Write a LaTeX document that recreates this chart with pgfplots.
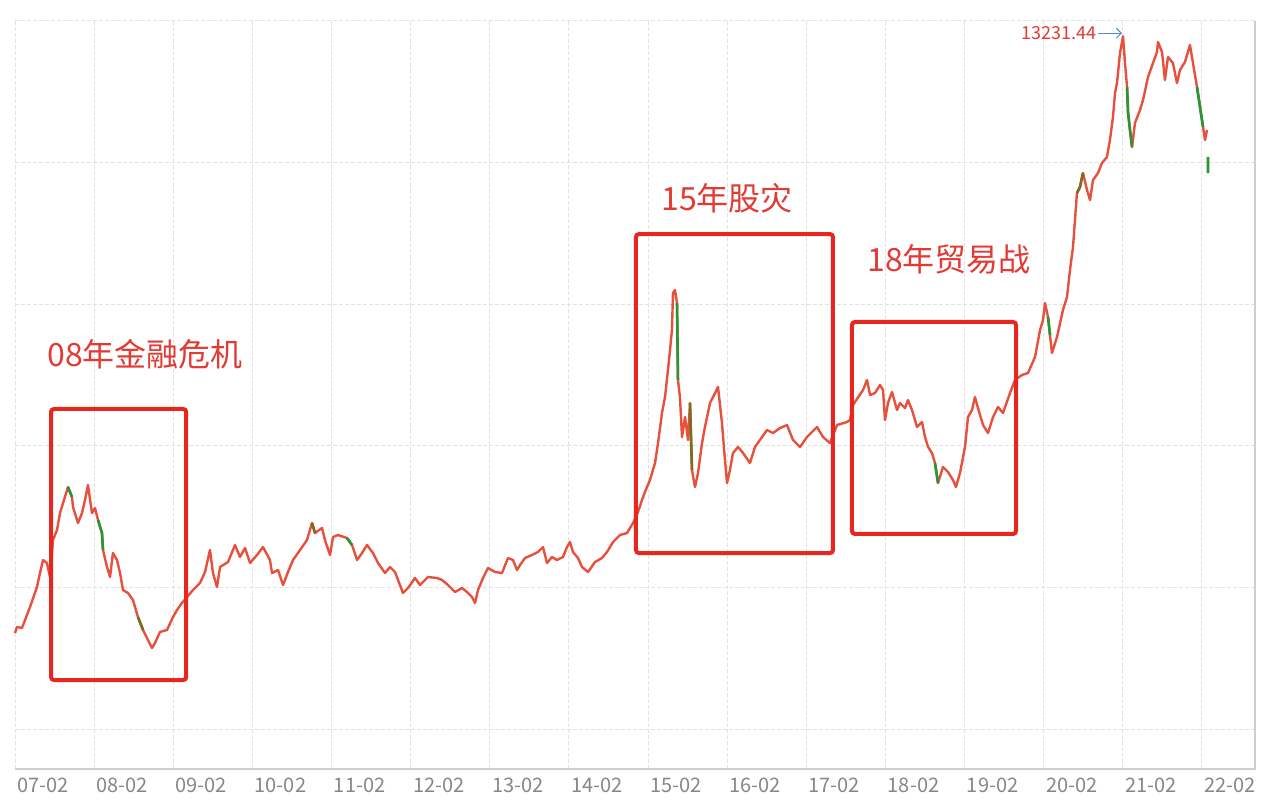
\documentclass[border=0pt]{standalone}
\usepackage{fontspec}
\setmainfont{Noto Sans CJK SC}
\usepackage{pgfplots}
\pgfplotsset{compat=1.18}
\usetikzlibrary{arrows.meta,backgrounds}
\definecolor{linered}{RGB}{232,80,62}
\definecolor{boxred}{RGB}{232,38,32}
\definecolor{txtred}{RGB}{226,58,52}
\definecolor{cgreen}{RGB}{40,150,50}
\definecolor{colive}{RGB}{120,110,30}
\definecolor{gridc}{RGB}{226,226,226}
\definecolor{tickc}{RGB}{135,135,135}
\definecolor{arrowc}{RGB}{80,140,200}
\begin{document}
\begin{tikzpicture}
\begin{axis}[
  width=620pt, height=374pt, scale only axis,
  xmin=0, xmax=15.67, ymin=294, ymax=13500,
  xtick={0,...,15},
  xticklabels={07-02,08-02,09-02,10-02,11-02,12-02,13-02,14-02,15-02,16-02,17-02,18-02,19-02,20-02,21-02,22-02},
  ytick={1000,3500,6000,8500,11000,13500}, yticklabel=\empty,
  major tick length=0pt,
  grid=major,
  major grid style={gridc, line width=0.5pt, dash pattern=on 2pt off 1pt},
  axis line style={draw=none},
  xticklabel style={anchor=north west, font=\fontsize{10pt}{12pt}\selectfont, text=tickc, inner sep=0pt, yshift=-4.5pt, xshift=1pt},
  clip=false,
]
% main series
\addplot[linered, line width=1.2pt, line join=round] coordinates {
(0.000,2695)(0.025,2801)(0.088,2783)(0.190,3154)(0.278,3507)(0.316,3754)(0.354,3984)(0.404,3931)(0.442,3684)(0.480,4337)(0.531,4513)(0.569,4813)(0.607,4990)(0.670,5272)(0.720,5096)(0.733,4919)(0.796,4637)(0.847,4813)(0.885,5043)(0.922,5308)(0.973,4813)(1.011,4902)(1.049,4690)(1.099,4460)(1.112,4160)(1.163,3860)(1.201,3684)(1.238,4107)(1.289,3984)(1.327,3754)(1.365,3454)(1.428,3401)(1.491,3277)(1.554,2977)(1.618,2748)(1.681,2571)(1.731,2430)(1.769,2518)(1.832,2713)(1.921,2748)(1.997,2977)(2.047,3101)(2.110,3225)(2.174,3330)(2.249,3454)(2.338,3578)(2.401,3772)(2.464,4160)
(2.502,3754)(2.553,3507)(2.591,3860)(2.692,3948)(2.780,4249)(2.843,4037)(2.907,4196)(2.970,3931)(3.058,4072)(3.134,4213)(3.222,3984)(3.248,3754)(3.324,3807)(3.387,3542)(3.450,3772)(3.513,3984)(3.602,4160)(3.690,4337)(3.753,4637)(3.791,4460)(3.880,4549)(3.917,4337)(3.981,4072)(4.019,4390)(4.082,4425)(4.196,4372)(4.259,4249)(4.322,3984)(4.385,4107)(4.448,4249)(4.524,4107)(4.587,3931)(4.676,3754)(4.739,3860)(4.802,3772)(4.865,3542)(4.903,3401)(4.966,3489)(5.055,3666)
(5.118,3542)(5.219,3684)(5.333,3666)(5.396,3631)(5.472,3542)(5.560,3419)(5.649,3489)(5.712,3419)(5.775,3330)(5.813,3225)(5.851,3454)(5.914,3666)(5.977,3842)(6.066,3772)(6.154,3754)(6.230,4019)(6.293,3984)(6.344,3807)(6.382,3895)(6.445,4019)(6.533,4072)(6.609,4125)(6.672,4213)(6.723,3931)(6.786,4037)(6.849,3984)(6.925,4037)(6.976,4213)(7.013,4301)(7.051,4125)(7.115,4019)(7.165,3860)(7.241,3772)(7.329,3948)(7.418,4019)(7.481,4125)(7.557,4301)(7.645,4425)(7.734,4460)(7.810,4637)
(7.873,4831)(7.923,5043)(7.961,5184)(8.024,5396)(8.088,5696)(8.126,6049)(8.176,6579)(8.214,6861)(8.252,7338)(8.302,8044)(8.315,8698)(8.340,8751)(8.366,8521)(8.378,7162)(8.403,6861)(8.429,6155)(8.467,6508)(8.505,6102)(8.530,6756)(8.555,5573)(8.593,5272)(8.631,5520)(8.682,6049)(8.719,6332)(8.783,6756)(8.821,6861)(8.884,7038)(8.934,6402)(8.972,5749)(8.998,5343)(9.035,5573)(9.073,5873)(9.137,5979)(9.200,5873)(9.288,5696)(9.351,5979)(9.440,6155)(9.503,6279)(9.579,6226)(9.667,6314)(9.756,6367)(9.832,6102)(9.920,5979)(10.008,6155)(10.135,6332)(10.211,6155)(10.299,6049)(10.388,6367)(10.514,6420)
(10.552,6455)(10.590,6720)(10.716,6985)(10.767,7162)(10.805,6897)(10.868,6932)(10.931,7073)(10.969,6985)(10.994,6455)(11.032,6756)(11.083,6950)(11.146,6632)(11.184,6756)(11.247,6667)(11.285,6808)(11.335,6632)(11.399,6332)(11.462,6420)(11.500,6155)(11.538,5979)(11.588,5873)(11.626,5696)(11.664,5343)(11.727,5626)(11.790,5537)(11.853,5396)(11.891,5272)(11.942,5520)(12.005,5979)(12.043,6508)(12.094,6632)(12.131,6861)(12.169,6667)(12.233,6367)(12.296,6226)(12.359,6508)(12.422,6685)(12.485,6579)(12.574,6932)(12.637,7162)(12.725,7250)(12.801,7285)(12.890,7568)
(12.953,8044)(12.991,8221)(13.016,8521)(13.054,8274)(13.104,7638)(13.168,7921)(13.243,8397)(13.294,8627)(13.332,9104)(13.370,9510)(13.395,9986)(13.420,10463)(13.458,10569)(13.496,10816)(13.547,10516)(13.585,10340)(13.623,10693)(13.686,10816)(13.736,10993)(13.799,11099)(13.837,11399)(13.875,11805)(13.901,12229)(13.926,12405)(13.964,12935)(14.002,13231.44)(14.027,12758)(14.053,12335)(14.065,11893)(14.090,11575)(14.116,11275)(14.153,11699)(14.217,11928)(14.255,12105)(14.318,12511)(14.381,12758)(14.431,12952)(14.444,13129)(14.495,12952)(14.532,12458)(14.570,12864)(14.633,12758)(14.684,12405)(14.722,12635)(14.785,12776)(14.848,13076)(14.886,12758)(14.937,12335)(14.975,11981)(15.013,11628)(15.038,11399)(15.063,11575)
};
% falling candles
\addplot[cgreen, line width=1.3pt, unbounded coords=jump] coordinates {
(0.670,5272)(0.720,5096)(0.720,nan)
(1.049,4690)(1.099,4460)(1.112,4160)(1.112,nan)
(4.196,4372)(4.259,4249)(4.259,nan)
(8.366,8521)(8.378,7162)(8.378,nan)
(11.626,5696)(11.664,5343)(11.664,nan)
(13.054,8274)(13.080,7950)(13.080,nan)
(14.053,12335)(14.065,11893)(14.090,11575)(14.116,11275)(14.116,nan)
(14.937,12335)(14.975,11981)(15.013,11628)(15.013,nan)
(15.076,11100)(15.076,10816)
};
\addplot[colive, line width=1.3pt, unbounded coords=jump] coordinates {
(1.554,2977)(1.618,2748)(1.618,nan)
(3.753,4637)(3.791,4460)(3.791,nan)
(8.530,6756)(8.555,5573)(8.555,nan)
(13.420,10463)(13.458,10569)(13.496,10816)
};
% annotations
\draw[boxred, line width=2pt, rounded corners=1.5pt] (axis cs:0.455,1865) rectangle (axis cs:2.164,6650);
\draw[boxred, line width=2pt, rounded corners=1.5pt] (axis cs:7.847,4107) rectangle (axis cs:10.337,9739);
\draw[boxred, line width=2pt, rounded corners=1.5pt] (axis cs:10.577,4443) rectangle (axis cs:12.650,8186);
\node[anchor=west, text=txtred, font=\fontsize{16pt}{18pt}\selectfont, inner sep=0pt] at (axis cs:0.404,7621) {08年金融危机};
\node[anchor=west, text=txtred, font=\fontsize{16pt}{18pt}\selectfont, inner sep=0pt] at (axis cs:8.163,10375) {15年股灾};
\node[anchor=west, text=txtred, font=\fontsize{16pt}{18pt}\selectfont, inner sep=0pt] at (axis cs:10.767,9298) {18年贸易战};
\draw[arrowc, line width=0.5pt, -{Straight Barb[length=2.5pt]}] ([xshift=-12.5pt,yshift=1.5pt]axis cs:14.002,13231.44) -- ([xshift=-0.5pt,yshift=1.5pt]axis cs:14.002,13231.44) node[pos=0, anchor=east, inner sep=0.5pt, text=txtred, font=\fontsize{9pt}{10pt}\selectfont] {13231.44};
% frame lines
\draw[gridc!80!gray, line width=0.6pt] (rel axis cs:0,0) -- (rel axis cs:1,0) -- (rel axis cs:1,1);
\end{axis}
\pgfresetboundingbox
\path[use as bounding box] ([shift={(-7.5pt,-20pt)}]current axis.south west) rectangle ([shift={(12.5pt,10.5pt)}]current axis.north east);
\begin{scope}[on background layer]
\fill[white] ([shift={(-7.5pt,-20pt)}]current axis.south west) rectangle ([shift={(12.5pt,10.5pt)}]current axis.north east);
\end{scope}
\end{tikzpicture}
\end{document}
